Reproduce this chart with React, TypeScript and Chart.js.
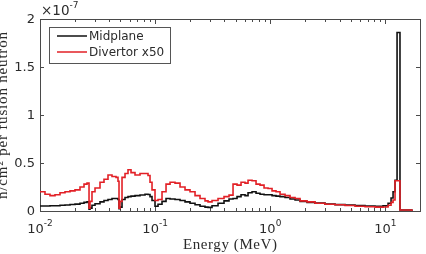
import { useEffect, useRef } from 'react';
import { Chart, registerables } from 'chart.js';

Chart.register(...registerables);

// Energy group boundaries (MeV); each flux value applies from edge i to edge i+1
const energyEdges = [
  0.01, 0.01105, 0.01221, 0.0135, 0.01492, 0.01649, 0.01823, 0.02014, 0.02226, 0.02412,
  0.02561, 0.02666, 0.0272, 0.02829, 0.03005, 0.03321, 0.03597, 0.03897, 0.04222, 0.04574,
  0.0476, 0.04857, 0.04955, 0.05158, 0.05477, 0.05815, 0.06175, 0.06689, 0.07393, 0.08171,
  0.08676, 0.09031, 0.094, 0.0998, 0.106, 0.1148, 0.1244, 0.1348, 0.1489, 0.1646,
  0.1819, 0.201, 0.2222, 0.2455, 0.2713, 0.2882, 0.3122, 0.352, 0.3968, 0.4386,
  0.4752, 0.5148, 0.5577, 0.6041, 0.6416, 0.695, 0.7529, 0.8156, 0.8836, 0.9571,
  1.037, 1.123, 1.217, 1.345, 1.486, 1.643, 1.815, 2.088, 2.45, 2.993,
  3.656, 4.466, 5.455, 6.663, 8.139, 9.55, 10.56, 11.21, 11.67, 12.14,
  12.64, 13.4, 14.4, 17.0,
];

// Flux per fusion neutron, in units of 1e-7 n/cm^2
const midplane = [
  0.052, 0.052, 0.055, 0.055, 0.06, 0.062, 0.068, 0.072, 0.08, 0.09,
  0.097, 0.018, 0.03, 0.06, 0.075, 0.095, 0.11, 0.12, 0.13, 0.13,
  0.12, 0.025, 0.04, 0.12, 0.14, 0.15, 0.155, 0.16, 0.167, 0.175,
  0.172, 0.15, 0.11, 0.05, 0.07, 0.1, 0.13, 0.125, 0.12, 0.11,
  0.095, 0.08, 0.065, 0.05, 0.04, 0.038, 0.055, 0.08, 0.105, 0.125,
  0.13, 0.15, 0.17, 0.16, 0.19, 0.2, 0.185, 0.175, 0.17, 0.17,
  0.16, 0.155, 0.15, 0.14, 0.125, 0.115, 0.1, 0.09, 0.082, 0.072,
  0.066, 0.062, 0.058, 0.052, 0.05, 0.055, 0.08, 0.135, 0.2, 0.32,
  1.86, 0.01, 0.01,
];

// Divertor flux per fusion neutron, multiplied by 50, in units of 1e-7 n/cm^2
const divertor = [
  0.2, 0.175, 0.16, 0.17, 0.19, 0.2, 0.21, 0.22, 0.25, 0.28,
  0.29, 0.03, 0.1, 0.2, 0.24, 0.3, 0.33, 0.375, 0.36, 0.35,
  0.31, 0.03, 0.1, 0.35, 0.39, 0.43, 0.4, 0.375, 0.39, 0.39,
  0.37, 0.3, 0.22, 0.11, 0.12, 0.2, 0.28, 0.3, 0.29, 0.25,
  0.22, 0.2, 0.16, 0.13, 0.105, 0.095, 0.11, 0.13, 0.15, 0.165,
  0.28, 0.27, 0.3, 0.29, 0.32, 0.315, 0.28, 0.27, 0.24, 0.235,
  0.21, 0.2, 0.175, 0.16, 0.14, 0.13, 0.105, 0.095, 0.08, 0.07,
  0.065, 0.058, 0.05, 0.045, 0.04, 0.042, 0.06, 0.09, 0.115, 0.315,
  0.315, 0.01, 0.01,
];

const seriesLabels = ['Midplane', 'Divertor x50'];
const seriesColors = ['#111111', 'rgb(226, 32, 38)'];

const yTicks = [0, 0.5, 1, 1.5, 2];
const yTickLabels = ['0', '0.5', '1', '1.5', '2'];
const xDecadeExponents = [-2, -1, 0, 1];
const yMultiplierExponent = '-7';

const xMin = 0.01;
const xMax = 20;
const xTitle = 'Energy (MeV)';
const yTitle = 'n/cm\u00b2 per fusion neutron';

const SANS = '"DejaVu Sans", sans-serif';
const SERIF = '"Liberation Serif", serif';
const AXIS_COLOR = '#4a4a4a';
const TEXT_COLOR = '#2b2b2b';

// Stairs trace: each value holds from its lower edge to the next edge, then drops to zero
function stairs(values: number[]) {
  const pts = values.map((v, i) => ({ x: energyEdges[i], y: v }));
  pts.push({ x: energyEdges[values.length], y: 0 });
  return pts;
}

// Draws text stretched to a given width via letter spacing
function fillFitted(ctx: CanvasRenderingContext2D, text: string, x: number, y: number, width: number) {
  const natural = ctx.measureText(text).width;
  const spacing = (width - natural) / Math.max(1, text.length - 1);
  (ctx as any).letterSpacing = `${spacing}px`;
  ctx.fillText(text, x, y);
  (ctx as any).letterSpacing = '0px';
}

const framePlugin = {
  id: 'matlabFrame',
  beforeDatasetsDraw(chart: any) {
    const { ctx, chartArea: a, scales } = chart;
    const xs = scales.x;
    const ys = scales.y;
    ctx.save();
    ctx.strokeStyle = AXIS_COLOR;
    ctx.lineWidth = 1;
    ctx.beginPath();
    // inward ticks on the log energy axis, top and bottom
    for (let d = -2; d <= 1; d++) {
      for (let m = 1; m <= 9; m++) {
        const v = m * Math.pow(10, d);
        if (v < xMin || v > xMax) continue;
        const px = Math.round(xs.getPixelForValue(v)) + 0.5;
        const len = m === 1 ? 5 : 3;
        ctx.moveTo(px, a.bottom);
        ctx.lineTo(px, a.bottom - len);
        ctx.moveTo(px, a.top);
        ctx.lineTo(px, a.top + len);
      }
    }
    // inward ticks on the flux axis, left and right
    for (const t of yTicks) {
      const py = Math.round(ys.getPixelForValue(t)) + 0.5;
      ctx.moveTo(a.left, py);
      ctx.lineTo(a.left + 4, py);
      ctx.moveTo(a.right, py);
      ctx.lineTo(a.right - 4, py);
    }
    ctx.stroke();
    ctx.strokeRect(Math.round(a.left) + 0.5, Math.round(a.top) + 0.5, Math.round(a.right - a.left), Math.round(a.bottom - a.top));
    ctx.restore();
  },
  afterDraw(chart: any) {
    const { ctx, chartArea: a, scales } = chart;
    const xs = scales.x;
    const ys = scales.y;
    ctx.save();
    ctx.fillStyle = TEXT_COLOR;

    // flux tick labels
    ctx.font = `13px ${SANS}`;
    ctx.textAlign = 'right';
    ctx.textBaseline = 'middle';
    yTicks.forEach((t, i) => {
      ctx.fillText(yTickLabels[i], a.left - 5, ys.getPixelForValue(t) + 1);
    });

    // energy decade labels written as 10 with a raised exponent
    ctx.textAlign = 'left';
    ctx.textBaseline = 'alphabetic';
    for (const e of xDecadeExponents) {
      const px = xs.getPixelForValue(Math.pow(10, e));
      ctx.font = `13px ${SANS}`;
      const wb = ctx.measureText('10').width;
      ctx.font = `9px ${SANS}`;
      const we = ctx.measureText(String(e)).width;
      const x0 = px - (wb + we) / 2;
      ctx.font = `13px ${SANS}`;
      ctx.fillText('10', x0, a.bottom + 22);
      ctx.font = `9px ${SANS}`;
      ctx.fillText(String(e), x0 + wb, a.bottom + 15);
    }

    // axis multiplier above the flux axis
    ctx.font = `13.5px ${SANS}`;
    ctx.fillText('\u00d710', a.left + 1, a.top - 4);
    const wm = ctx.measureText('\u00d710').width;
    ctx.font = `9px ${SANS}`;
    ctx.fillText(yMultiplierExponent, a.left + 1 + wm, a.top - 11);

    // axis titles
    ctx.font = `15px ${SERIF}`;
    ctx.textAlign = 'left';
    const tx = (a.left + a.right) / 2 - 47;
    fillFitted(ctx, xTitle, tx, 249, 94);

    ctx.save();
    ctx.translate(7, (a.top + a.bottom) / 2 + 84);
    ctx.rotate(-Math.PI / 2);
    fillFitted(ctx, yTitle, 0, 0, 167);
    ctx.restore();

    // legend box in the upper left of the plot
    const lx = 49.5, ly = 27.5, lw = 121, lh = 36;
    ctx.fillStyle = '#ffffff';
    ctx.fillRect(lx, ly, lw, lh);
    ctx.strokeStyle = '#555555';
    ctx.lineWidth = 1;
    ctx.strokeRect(lx, ly, lw, lh);
    ctx.font = `12px ${SANS}`;
    ctx.textBaseline = 'middle';
    seriesLabels.forEach((label, i) => {
      const y = 36 + i * 16;
      ctx.strokeStyle = seriesColors[i];
      ctx.lineWidth = 1.5;
      ctx.beginPath();
      ctx.moveTo(57, y);
      ctx.lineTo(87, y);
      ctx.stroke();
      ctx.fillStyle = TEXT_COLOR;
      ctx.fillText(label, 89, y + 0.5);
    });
    ctx.restore();
  },
};

export default function App() {
  const canvasRef = useRef<HTMLCanvasElement | null>(null);

  useEffect(() => {
    const canvas = canvasRef.current;
    if (!canvas) return;
    const chart = new Chart(canvas, {
      type: 'line',
      data: {
        datasets: [
          {
            label: seriesLabels[0],
            data: stairs(midplane),
            borderColor: seriesColors[0],
            borderWidth: 1.6,
            stepped: true,
            pointRadius: 0,
            fill: false,
            order: 2,
          },
          {
            label: seriesLabels[1],
            data: stairs(divertor),
            borderColor: seriesColors[1],
            borderWidth: 1.6,
            stepped: true,
            pointRadius: 0,
            fill: false,
            order: 1,
          },
        ],
      },
      options: {
        animation: false,
        responsive: false,
        devicePixelRatio: 1,
        events: [],
        layout: { padding: { left: 40, top: 19, right: 6, bottom: 43 } },
        plugins: { legend: { display: false }, tooltip: { enabled: false } },
        scales: {
          x: { type: 'logarithmic', min: xMin, max: xMax, display: false },
          y: { type: 'linear', min: 0, max: 2, display: false },
        },
      },
      plugins: [framePlugin],
    });
    return () => chart.destroy();
  }, []);

  return (
    <div style={{ position: 'fixed', left: 0, top: 0, width: 426, height: 254, background: '#fff' }}>
      <canvas ref={canvasRef} width={426} height={254} style={{ display: 'block' }} />
    </div>
  );
}
